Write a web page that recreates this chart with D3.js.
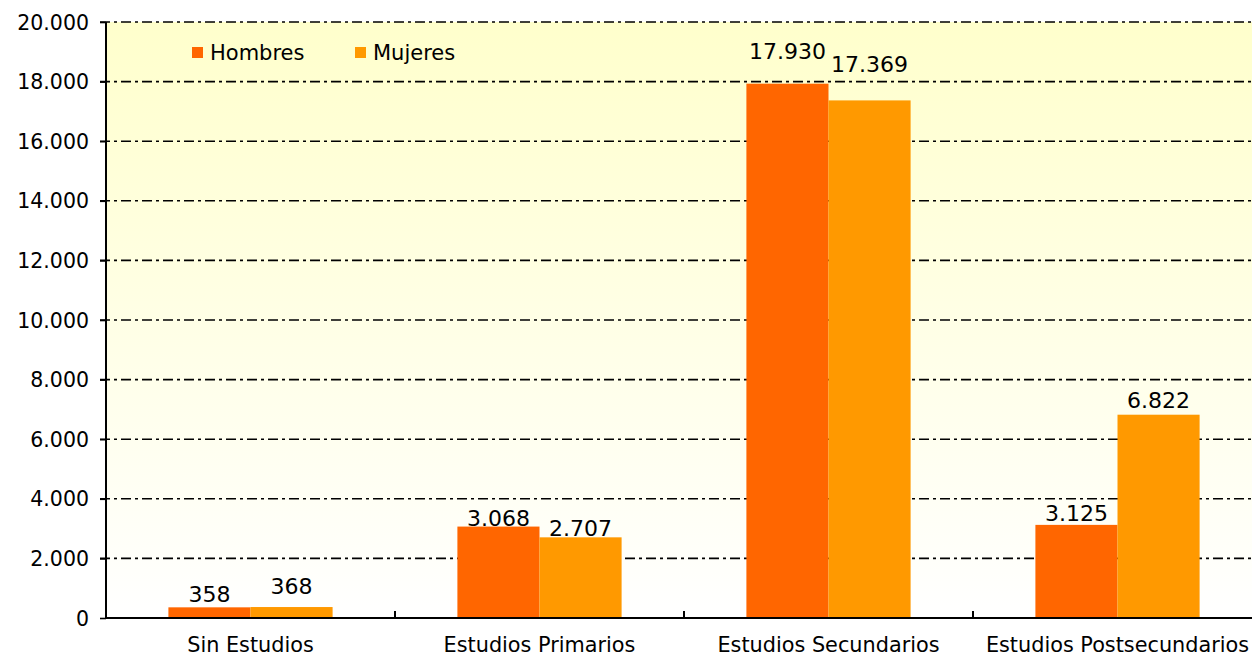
<!DOCTYPE html>
<html>
<head>
<meta charset="utf-8">
<script src="https://cdn.jsdelivr.net/npm/d3@7"></script>
<style>
  body { margin: 0; background: #fff; }
  text { font-family: "DejaVu Sans", Verdana, sans-serif; }
</style>
</head>
<body>
<div id="chart"></div>
<script>
const categories = ["Sin Estudios", "Estudios Primarios", "Estudios Secundarios", "Estudios Postsecundarios"];
const series = ["Hombres", "Mujeres"];
const hombres = [358, 3068, 17930, 3125];
const mujeres = [368, 2707, 17369, 6822];
const yTicks = [0, 2000, 4000, 6000, 8000, 10000, 12000, 14000, 16000, 18000, 20000];

const width = 1252, height = 657,
  margin = { top: 22, bottom: 39, left: 106, right: -10 };

const colors = { Hombres: "#FF6600", Mujeres: "#FF9900" };
// label lift above each bar (px), as placed in the original
const labelLift = { Hombres: [5, 1, 25, 4], Mujeres: [13, 1, 28, 7] };

const fmt = d => d3.format(",")(d).replace(/,/g, ".");

const rows = categories.map((c, i) => ({ cat: c, Hombres: hombres[i], Mujeres: mujeres[i], i }));

/* SCALES */
const xScale = d3.scaleBand()
  .domain(categories)
  .range([margin.left, width - margin.right])
  .paddingInner(0)
  .paddingOuter(0);

const xInner = d3.scaleBand()
  .domain(series)
  .range([0, xScale.bandwidth()])
  .paddingOuter(0.76)
  .paddingInner(0);

const yScale = d3.scaleLinear()
  .domain([0, 20000])
  .range([height - margin.bottom, margin.top]);

const svg = d3.select("#chart")
  .append("svg")
  .attr("width", width)
  .attr("height", height);

// background gradient
const grad = svg.append("defs").append("linearGradient")
  .attr("id", "bg").attr("x1", 0).attr("y1", 0).attr("x2", 0).attr("y2", 1);
grad.append("stop").attr("offset", "0%").attr("stop-color", "#FFFFCC");
grad.append("stop").attr("offset", "100%").attr("stop-color", "#FFFFFF");

svg.append("rect")
  .attr("x", margin.left)
  .attr("y", yScale(20000))
  .attr("width", width - margin.left)
  .attr("height", yScale(0) - yScale(20000))
  .attr("fill", "url(#bg)");

// gridlines
svg.append("g")
  .selectAll("line")
  .data(yTicks.filter(d => d > 0))
  .join("line")
  .attr("x1", margin.left - 6)
  .attr("x2", width)
  .attr("y1", d => yScale(d))
  .attr("y2", d => yScale(d))
  .attr("stroke", "#000")
  .attr("stroke-width", 1.6)
  .attr("stroke-dasharray", "10,4,3,4");

// bars
const groups = svg.append("g")
  .selectAll("g")
  .data(rows)
  .join("g")
  .attr("transform", d => `translate(${xScale(d.cat)},0)`);

groups.selectAll("rect")
  .data(d => series.map(s => ({ s, v: d[s], i: d.i })))
  .join("rect")
  .attr("x", d => xInner(d.s))
  .attr("y", d => yScale(d.v))
  .attr("width", xInner.bandwidth())
  .attr("height", d => yScale(0) - yScale(d.v))
  .attr("fill", d => colors[d.s]);

groups.selectAll("text")
  .data(d => series.map(s => ({ s, v: d[s], i: d.i })))
  .join("text")
  .attr("x", d => xInner(d.s) + xInner.bandwidth() / 2)
  .attr("y", d => yScale(d.v) - labelLift[d.s][d.i])
  .attr("text-anchor", "middle")
  .attr("font-size", 22)
  .attr("fill", "#000")
  .text(d => fmt(d.v));

// y axis
const yAxis = d3.axisLeft(yScale)
  .tickValues(yTicks)
  .tickFormat(fmt)
  .tickSize(6)
  .tickPadding(11);

const yAxisGroup = svg.append("g")
  .attr("transform", `translate(${margin.left},0)`)
  .call(yAxis);
yAxisGroup.select(".domain").attr("stroke-width", 2).attr("d", `M0,${yScale(20000)}V${yScale(0)}`);
yAxisGroup.selectAll(".tick line").attr("stroke-width", 1.6);
yAxisGroup.selectAll(".tick text").attr("font-size", 20.5).attr("fill", "#000").attr("dy", "0.35em");

// x axis
const xAxis = d3.axisBottom(xScale).tickSize(0).tickPadding(19);
const xAxisGroup = svg.append("g")
  .attr("transform", `translate(0,${yScale(0)})`)
  .call(xAxis);
xAxisGroup.select(".domain").attr("stroke-width", 2).attr("d", `M${margin.left},0H${width}`);
xAxisGroup.selectAll(".tick text").attr("font-size", 20.8).attr("fill", "#000");

// category separators
svg.append("g")
  .selectAll("line")
  .data(categories.slice(1))
  .join("line")
  .attr("x1", d => xScale(d))
  .attr("x2", d => xScale(d))
  .attr("y1", yScale(0))
  .attr("y2", yScale(0) - 7)
  .attr("stroke", "#000")
  .attr("stroke-width", 2);

// legend
const legend = svg.append("g")
  .selectAll("g")
  .data(series)
  .join("g")
  .attr("transform", (d, i) => `translate(${192 + i * 163},47)`);

legend.append("rect")
  .attr("width", 11)
  .attr("height", 11)
  .attr("fill", d => colors[d]);

legend.append("text")
  .attr("x", 18)
  .attr("y", 13)
  .attr("font-size", 21)
  .attr("fill", "#000")
  .text(d => d);
</script>
</body>
</html>
